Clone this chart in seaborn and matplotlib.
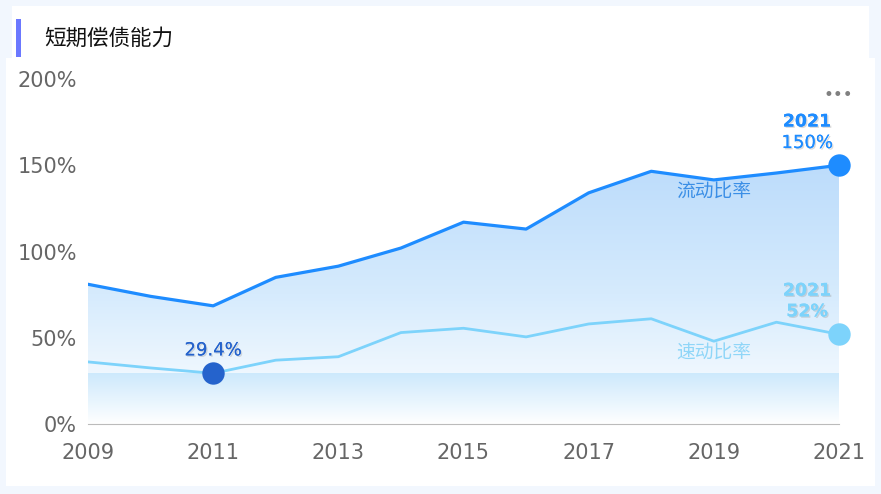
import numpy as np
import pandas as pd
import seaborn as sns
import matplotlib.pyplot as plt
import matplotlib.patheffects as pe
from matplotlib.patches import Rectangle, Polygon
from matplotlib.colors import LinearSegmentedColormap

sns.set_style("white")
plt.rcParams["font.family"] = ["Noto Sans CJK SC", "DejaVu Sans"]

# ── data ─────────────────────────────────────────────────────────────────────
years = [2009, 2010, 2011, 2012, 2013, 2014, 2015, 2016, 2017, 2018, 2019, 2020, 2021]
current_ratio = [81, 74, 68.5, 85, 91.5, 102, 117, 113, 134, 146.5, 141.5, 145.5, 150]
quick_ratio = [36, 32.5, 29.4, 37, 39, 53, 55.5, 50.5, 58, 61, 48, 59, 52]
series_names = ["流动比率", "速动比率"]
title = "短期偿债能力"

df = pd.DataFrame({"year": years * 2,
                   "value": current_ratio + quick_ratio,
                   "series": [series_names[0]] * len(years) + [series_names[1]] * len(years)})

c_main = "#1e8cff"
c_quick = "#7dd3fb"
c_min = "#2563cc"

fig = plt.figure(figsize=(8.81, 4.94), dpi=100, facecolor="#f2f7fe")
fig.patches.append(Rectangle((6 / 881, 8 / 494), 869 / 881, 428 / 494, transform=fig.transFigure,
                             facecolor="white", edgecolor="none", zorder=-5))
fig.patches.append(Rectangle((12 / 881, 434 / 494), 857 / 881, 54 / 494, transform=fig.transFigure,
                             facecolor="white", edgecolor="none", zorder=-5))
fig.patches.append(Rectangle((16 / 881, 437 / 494), 5 / 881, 38 / 494, transform=fig.transFigure,
                             facecolor="#6b78ff", edgecolor="none", zorder=-4))
fig.text(44 / 881, 455 / 494, title, fontsize=15.5, color="#111111", va="center", ha="left")

ax = fig.add_axes([88 / 881, 70 / 494, 751 / 881, 345 / 494])
ax.set_facecolor("none")

# gradient fill under the current ratio line
grad = LinearSegmentedColormap.from_list("g", ["#ffffff", "#d6ebfd", "#bcdcfb"])
xs = np.array(years, dtype=float)
poly = Polygon(np.column_stack([np.r_[xs, xs[::-1]], np.r_[current_ratio, np.zeros(len(xs))]]),
               closed=True, facecolor="none", edgecolor="none")
ax.add_patch(poly)
img = ax.imshow(np.linspace(1, 0, 256).reshape(-1, 1), cmap=grad, aspect="auto",
                extent=[xs[0], xs[-1], 0, max(current_ratio)], vmin=0, vmax=1, zorder=1)
img.set_clip_path(poly)

# lighter cyan band up to the minimum quick ratio
band = LinearSegmentedColormap.from_list("b", ["#ffffff", "#cde9fc"])
min_i = int(np.argmin(quick_ratio))
band_img = ax.imshow(np.linspace(1, 0, 256).reshape(-1, 1), cmap=band, aspect="auto",
                     extent=[xs[0], xs[-1], 0, quick_ratio[min_i]], vmin=0, vmax=1, zorder=1.5)

sns.lineplot(data=df, x="year", y="value", hue="series", palette=[c_main, c_quick],
             linewidth=2.2, legend=False, ax=ax, zorder=3)
for l, w in zip(ax.lines, [2.3, 2.0]):
    l.set_linewidth(w)

shadow = [pe.withSimplePatchShadow(offset=(1, -1), shadow_rgbFace="#999999", alpha=0.35), pe.Normal()]
num_font = "DejaVu Sans"

# end points
ax.scatter([years[-1]], [current_ratio[-1]], s=260, color=c_main, zorder=5, clip_on=False, linewidths=0)
ax.scatter([years[-1]], [quick_ratio[-1]], s=260, color=c_quick, zorder=5, clip_on=False, linewidths=0)
ax.scatter([years[min_i]], [quick_ratio[min_i]], s=260, color=c_min, zorder=5, clip_on=False, linewidths=0)

ax.annotate(str(years[-1]), (years[-1], current_ratio[-1]), xytext=(-23, 31.5), textcoords="offset points",
            ha="center", va="center", color=c_main, fontsize=12.5, fontweight="bold", family=num_font,
            path_effects=shadow)
ax.annotate(f"{current_ratio[-1]:.0f}%", (years[-1], current_ratio[-1]), xytext=(-23, 16),
            textcoords="offset points", ha="center", va="center", color=c_main, fontsize=13,
            family=num_font, path_effects=shadow)
ax.annotate(str(years[-1]), (years[-1], quick_ratio[-1]), xytext=(-23, 31.5), textcoords="offset points",
            ha="center", va="center", color=c_quick, fontsize=12.5, fontweight="bold", family=num_font,
            path_effects=shadow)
ax.annotate(f"{quick_ratio[-1]:.0f}%", (years[-1], quick_ratio[-1]), xytext=(-23, 16.5),
            textcoords="offset points", ha="center", va="center", color=c_quick, fontsize=12.5,
            fontweight="bold", family=num_font, path_effects=shadow)
ax.annotate(f"{quick_ratio[min_i]}%", (years[min_i], quick_ratio[min_i]), xytext=(0, 16.5),
            textcoords="offset points", ha="center", va="center", color=c_min, fontsize=13,
            family=num_font, path_effects=shadow)

# series name labels
ax.text(2019.0, 134.5, series_names[0], color="#3a8ee6", fontsize=13.5, ha="center", va="center")
ax.text(2019.0, 41, series_names[1], color="#8fd6f8", fontsize=13.5, ha="center", va="center")

# more-menu dots
fig.text(838 / 881, 399 / 494, "•••", color="#808080", fontsize=12, ha="center", va="center",
         family="DejaVu Sans")

ax.set_xlim(years[0], years[-1])
ax.set_ylim(0, 200)
ax.set_xticks(years)
ax.set_xticklabels([str(y) if (y - years[0]) % 2 == 0 else "" for y in years], family=num_font)
ax.set_yticks([0, 50, 100, 150, 200])
ax.set_yticklabels(["0%", "50%", "100%", "150%", "200%"], family=num_font)
ax.tick_params(axis="x", length=6, color="#bbbbbb", labelsize=15, labelcolor="#666666", pad=8)
ax.tick_params(axis="y", length=0, labelsize=15, labelcolor="#666666", pad=8)
for s in ["top", "right", "left"]:
    ax.spines[s].set_visible(False)
ax.spines["bottom"].set_color("#bbbbbb")
ax.set_xlabel("")
ax.set_ylabel("")

plt.savefig("out.png", dpi=100, facecolor=fig.get_facecolor())
